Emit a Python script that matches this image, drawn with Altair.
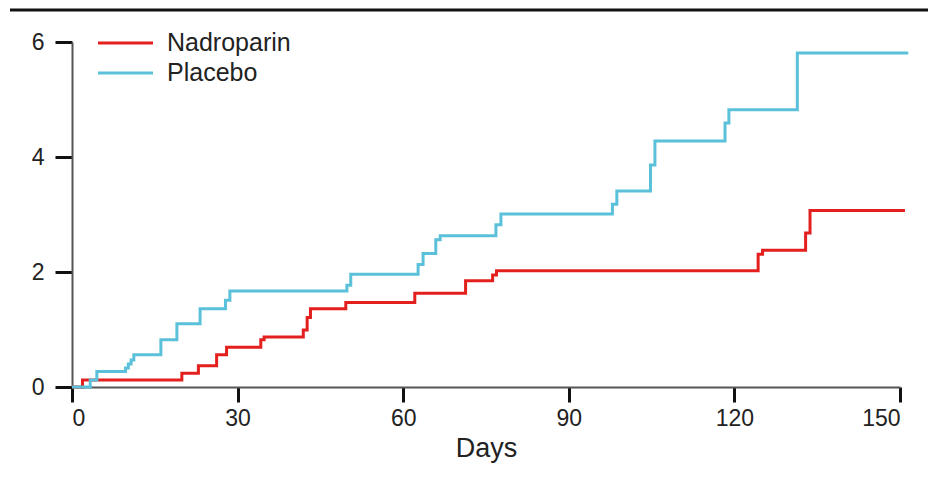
import altair as alt
import pandas as pd

series_names = ["Nadroparin", "Placebo"]
series_colors = ["#e4201f", "#5bc1da"]

nadroparin_days = [0, 1.9, 19.9, 22.9, 26.2, 28.0, 34.2, 34.8, 41.9, 42.6, 43.2, 49.6,
                   62.1, 71.3, 76.2, 76.9, 124.3, 125.1, 132.9, 133.7, 150.9]
nadroparin_rate = [0, 0.12, 0.24, 0.37, 0.56, 0.69, 0.82, 0.87, 0.99, 1.21, 1.36, 1.47,
                   1.63, 1.85, 1.95, 2.02, 2.31, 2.38, 2.68, 3.07, 3.07]

placebo_days = [0, 3.3, 4.5, 9.7, 10.2, 10.7, 11.2, 16.1, 19.0, 23.2, 27.8, 28.6,
                49.8, 50.5, 62.7, 63.6, 65.9, 66.7, 76.8, 77.7, 97.9, 98.7,
                104.8, 105.6, 118.3, 119.0, 131.4, 151.5]
placebo_rate = [0, 0.12, 0.27, 0.33, 0.40, 0.47, 0.56, 0.82, 1.10, 1.36, 1.51, 1.67,
                1.77, 1.96, 2.13, 2.32, 2.56, 2.63, 2.82, 3.01, 3.18, 3.41,
                3.86, 4.28, 4.59, 4.82, 5.81, 5.81]

x_ticks = [0, 30, 60, 90, 120, 150]
y_ticks = [0, 2, 4, 6]

rows = []
for d, v in zip(nadroparin_days, nadroparin_rate):
    rows.append({"day": d, "rate": v, "group": "Nadroparin", "order": 1})
for d, v in zip(placebo_days, placebo_rate):
    rows.append({"day": d, "rate": v, "group": "Placebo", "order": 2})
df = pd.DataFrame(rows)

font = "Liberation Sans, Arial, Helvetica, sans-serif"

lines = alt.Chart(df).mark_line(interpolate="step-after", strokeWidth=3, clip=False).encode(
    x=alt.X("day:Q", scale=alt.Scale(domain=[0, 150], nice=False, zero=False),
            axis=alt.Axis(values=x_ticks, title="Days", grid=False, domainColor="#555",
                          domainWidth=2, tickColor="#111", tickWidth=3, tickSize=15,
                          labelFont=font, labelFontSize=23, labelPadding=5,
                          labelColor="#222", titleFont=font, titleFontSize=27,
                          titleFontWeight="normal", titleColor="#222", titlePadding=5)),
    y=alt.Y("rate:Q", scale=alt.Scale(domain=[0, 6], nice=False),
            axis=alt.Axis(values=y_ticks, title=None, grid=False, domainColor="#555",
                          domainWidth=2, tickColor="#111", tickWidth=3, tickSize=17,
                          labelFont=font, labelFontSize=23, labelPadding=11,
                          labelColor="#222")),
    color=alt.Color("group:N", scale=alt.Scale(domain=series_names, range=series_colors),
                    legend=None),
    order=alt.Order("order:Q"),
)

legend_layers = []
for i, (name, col) in enumerate(zip(series_names, series_colors)):
    ly = 1 + 30 * i
    one = pd.DataFrame({"label": [name]})
    legend_layers.append(
        alt.Chart(one).mark_rule(color=col, strokeWidth=3).encode(
            x=alt.value(26), x2=alt.value(81), y=alt.value(ly)
        )
    )
    legend_layers.append(
        alt.Chart(one).mark_text(align="left", baseline="middle", font=font,
                                 fontSize=25, color="#222").encode(
            x=alt.value(95), y=alt.value(ly), text="label:N"
        )
    )

top_rule = alt.Chart(pd.DataFrame({"k": [0]})).mark_rule(color="#111", strokeWidth=3).encode(
    x=alt.value(-62), x2=alt.value(858), y=alt.value(-32)
)

chart = alt.layer(lines, *legend_layers, top_rule).properties(
    width=828, height=345,
    autosize=alt.AutoSizeParams(type="none"),
    padding={"left": 64, "top": 34, "right": 28, "bottom": 80},
).configure_view(stroke=None)

chart.save("out.html", embed_options={"renderer": "svg", "actions": False})
